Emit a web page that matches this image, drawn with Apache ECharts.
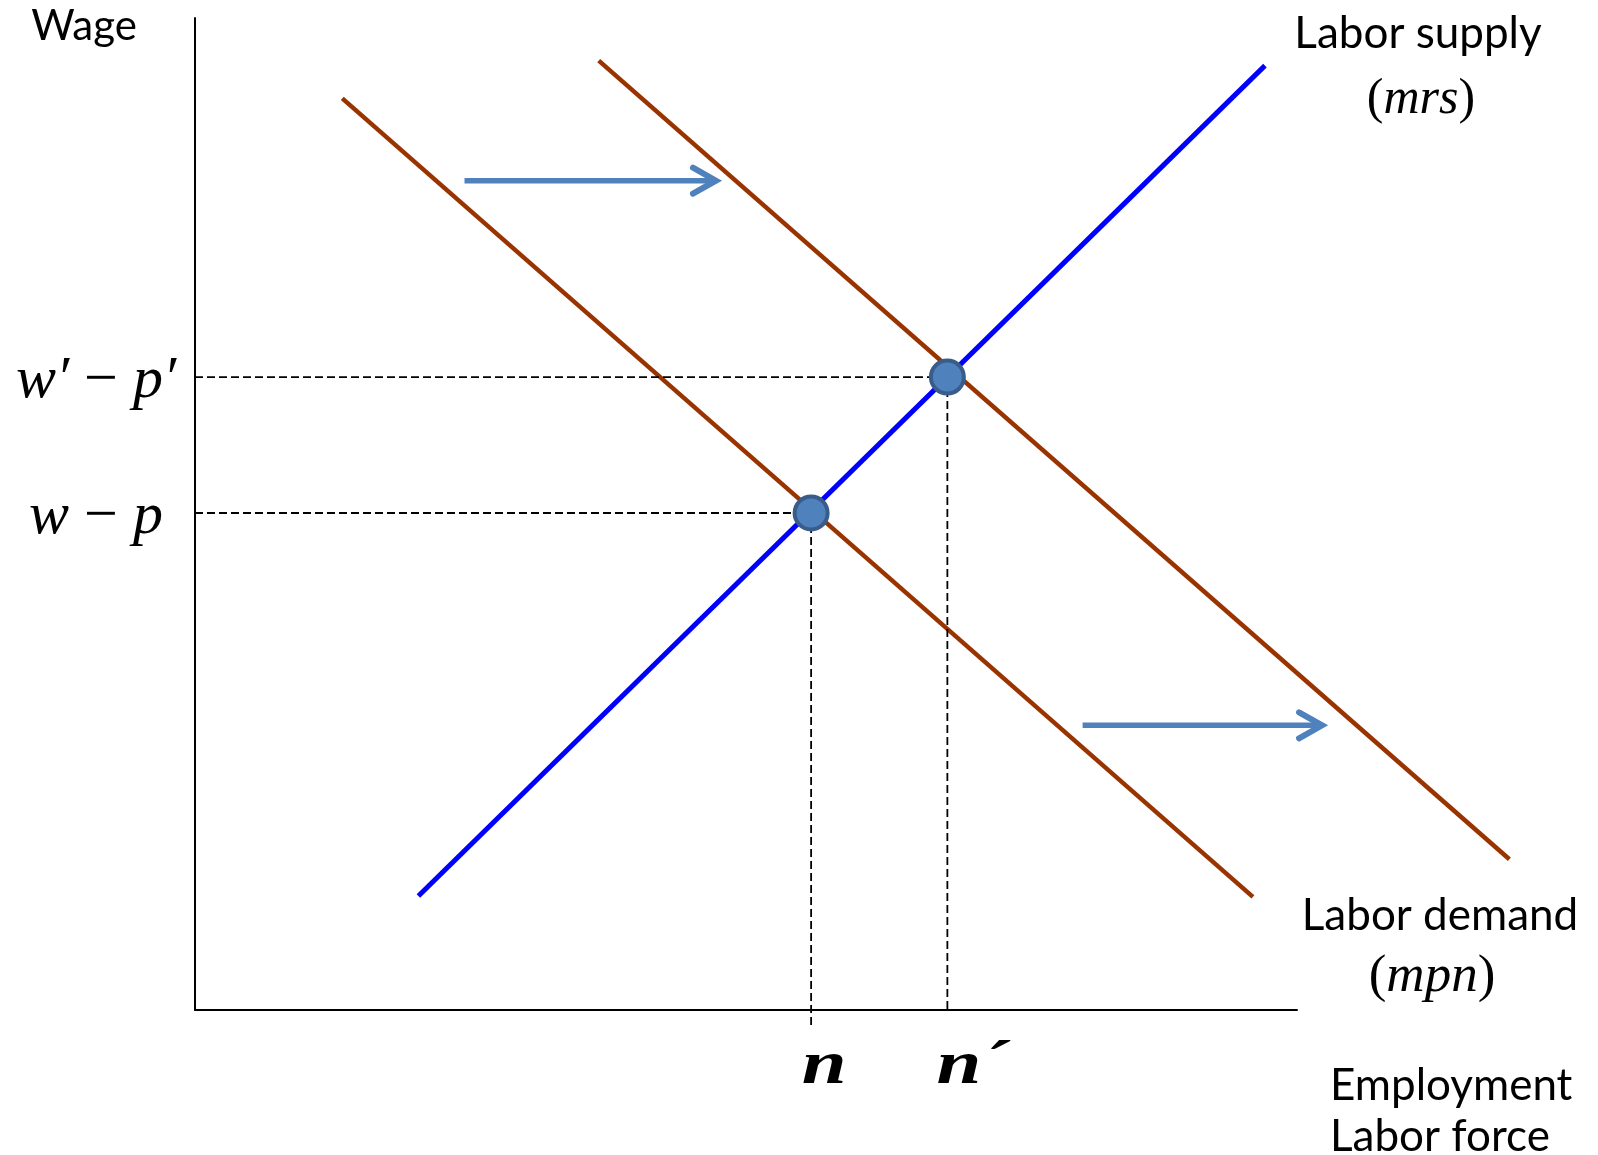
<!DOCTYPE html>
<html>
<head>
<meta charset="utf-8">
<script src="https://cdn.jsdelivr.net/npm/echarts@6/dist/echarts.min.js"></script>
<style>
html,body{margin:0;padding:0;background:#fff;}
#chart{width:1598px;height:1155px;}
</style>
</head>
<body>
<div id="chart"></div>
<script>
// ---- data (abstract units: employment 0..110, real wage 0..100) ----
const xRange = [0, 110];
const yRange = [0, 100];
const laborSupply = [[22.3, 11.5], [106.8, 95.2]];
const laborDemand = [[14.7, 91.9], [105.6, 11.4]];
const laborDemandShifted = [[40.3, 95.7], [131.2, 15.2]];
const equilibria = [[61.5, 50.1], [75.1, 63.8]];
const dropEnds = [-1.5, -0.2];
// [xStart, xEnd, y]
const shiftArrows = [[26.9, 52.3, 83.6], [88.6, 112.8, 28.7]];
const wageLabels = ['{i|w} {u|\u2212} {i|p}', '{i|w\u2032} {u|\u2212} {i|p\u2032}'];
const employmentLabels = ['n', 'n\u00b4'];

const BROWN = '#993300';
const BLUE = '#0000ff';
const ARROW = '#4f81bd';

const chart = echarts.init(document.getElementById('chart'), null, {renderer: 'canvas'});

function segmentSeries(points, color, width, z) {
  return {
    type: 'custom', clip: false, silent: true, z: z,
    data: [[points[0][0], points[0][1], points[1][0], points[1][1]]],
    encode: {x: [0, 2], y: [1, 3]},
    renderItem: function (params, api) {
      const a = api.coord([api.value(0), api.value(1)]);
      const b = api.coord([api.value(2), api.value(3)]);
      return {type: 'line', shape: {x1: a[0], y1: a[1], x2: b[0], y2: b[1]},
        style: {stroke: color, lineWidth: width, lineCap: 'butt'}};
    }
  };
}

const series = [
  segmentSeries(laborSupply, BLUE, 5, 3),
  segmentSeries(laborDemand, BROWN, 4.5, 2),
  segmentSeries(laborDemandShifted, BROWN, 4.5, 2)
];
equilibria.forEach(function (p, i) {
  series.push({type: 'line', data: [[xRange[0], p[1]], [p[0], p[1]]], symbol: 'none', clip: false, silent: true,
    lineStyle: {color: '#000', width: 1.8, type: [8, 4]}, z: 4});
  series.push({type: 'line', data: [[p[0], p[1]], [p[0], dropEnds[i]]], symbol: 'none', clip: false, silent: true,
    lineStyle: {color: '#000', width: 1.8, type: [8, 4]}, z: 4});
});
series.push({type: 'scatter', data: equilibria, symbol: 'circle', symbolSize: 33, silent: true, z: 5,
  itemStyle: {color: '#4f81bd', borderColor: '#385d8a', borderWidth: 4, opacity: 1}});
series.push({
  type: 'custom', data: shiftArrows, clip: false, silent: true, z: 6,
  encode: {x: [0, 1], y: 2},
  renderItem: function (params, api) {
    const s = api.coord([api.value(0), api.value(2)]);
    const e = api.coord([api.value(1), api.value(2)]);
    return {type: 'group', children: [
      {type: 'line', shape: {x1: s[0], y1: s[1], x2: e[0] - 4, y2: e[1]},
       style: {stroke: ARROW, lineWidth: 5.5}},
      {type: 'polyline', shape: {points: [[e[0] - 26, e[1] - 13], [e[0] - 3, e[1]], [e[0] - 26, e[1] + 13]]},
       style: {stroke: ARROW, lineWidth: 6, fill: null, lineCap: 'round', lineJoin: 'miter'}}
    ]};
  }
});

const option = {
  animation: false,
  backgroundColor: '#fff',
  grid: {left: 195, top: 18, width: 1102, height: 992, containLabel: false},
  xAxis: {type: 'value', min: xRange[0], max: xRange[1],
    axisLine: {show: true, onZero: false, lineStyle: {color: '#000', width: 2}},
    axisTick: {show: false}, axisLabel: {show: false}, splitLine: {show: false}},
  yAxis: {type: 'value', min: yRange[0], max: yRange[1],
    axisLine: {show: true, onZero: false, lineStyle: {color: '#000', width: 2}},
    axisTick: {show: false}, axisLabel: {show: false}, splitLine: {show: false}},
  series: series
};
chart.setOption(option);

const SANS = 'Lato, "Open Sans", sans-serif';
const SERIF = '"Liberation Serif", "DejaVu Serif", serif';
const MATH = 60;
const mathRich = {
  i: {fontFamily: SERIF, fontStyle: 'italic', fontSize: MATH, fill: '#000'},
  u: {fontFamily: SERIF, fontSize: MATH, fill: '#000'}
};
function parenRich(size) {
  return {i: {fontFamily: SERIF, fontStyle: 'italic', fontSize: size}, u: {fontFamily: SERIF, fontSize: size}};
}
const graphics = [
  {type: 'text', x: 84, y: 26, style: {text: 'Wage', font: '42px ' + SANS, fill: '#000', align: 'center', verticalAlign: 'middle'}},
  {type: 'text', x: 1418, y: 34, style: {text: 'Labor supply', font: '44px ' + SANS, fill: '#000', align: 'center', verticalAlign: 'middle'}},
  {type: 'text', x: 1421, y: 100, style: {text: '{u|(}{i|mrs}{u|)}', font: '50px ' + SERIF, fill: '#000', align: 'center', verticalAlign: 'middle',
    rich: parenRich(50)}},
  {type: 'text', x: 1440, y: 916, style: {text: 'Labor demand', font: '44px ' + SANS, fill: '#000', align: 'center', verticalAlign: 'middle'}},
  {type: 'text', x: 1432, y: 977, style: {text: '{u|(}{i|mpn}{u|)}', font: '53px ' + SERIF, fill: '#000', align: 'center', verticalAlign: 'middle',
    rich: parenRich(53)}},
  {type: 'text', x: 1330, y: 1086, style: {text: 'Employment', font: '44px ' + SANS, fill: '#000', align: 'left', verticalAlign: 'middle'}},
  {type: 'text', x: 1330, y: 1137, style: {text: 'Labor force', font: '44px ' + SANS, fill: '#000', align: 'left', verticalAlign: 'middle'}}
];
equilibria.forEach(function (p, i) {
  const py = chart.convertToPixel({gridIndex: 0}, [xRange[0], p[1]]);
  graphics.push({type: 'text', x: 96, y: py[1] + 4, style: {text: wageLabels[i], font: MATH + 'px ' + SERIF,
    align: 'center', verticalAlign: 'middle', fill: '#000', rich: mathRich}});
  const px = chart.convertToPixel({gridIndex: 0}, [p[0], yRange[0]]);
  graphics.push({type: 'text', x: px[0] + 13 + (i ? 12 : 0), y: px[1] + 57, scaleX: 1.3,
    style: {text: employmentLabels[i], font: 'italic bold 62px ' + SERIF, align: 'center', verticalAlign: 'middle', fill: '#000'}});
});
chart.setOption({graphic: graphics});
</script>
</body>
</html>
